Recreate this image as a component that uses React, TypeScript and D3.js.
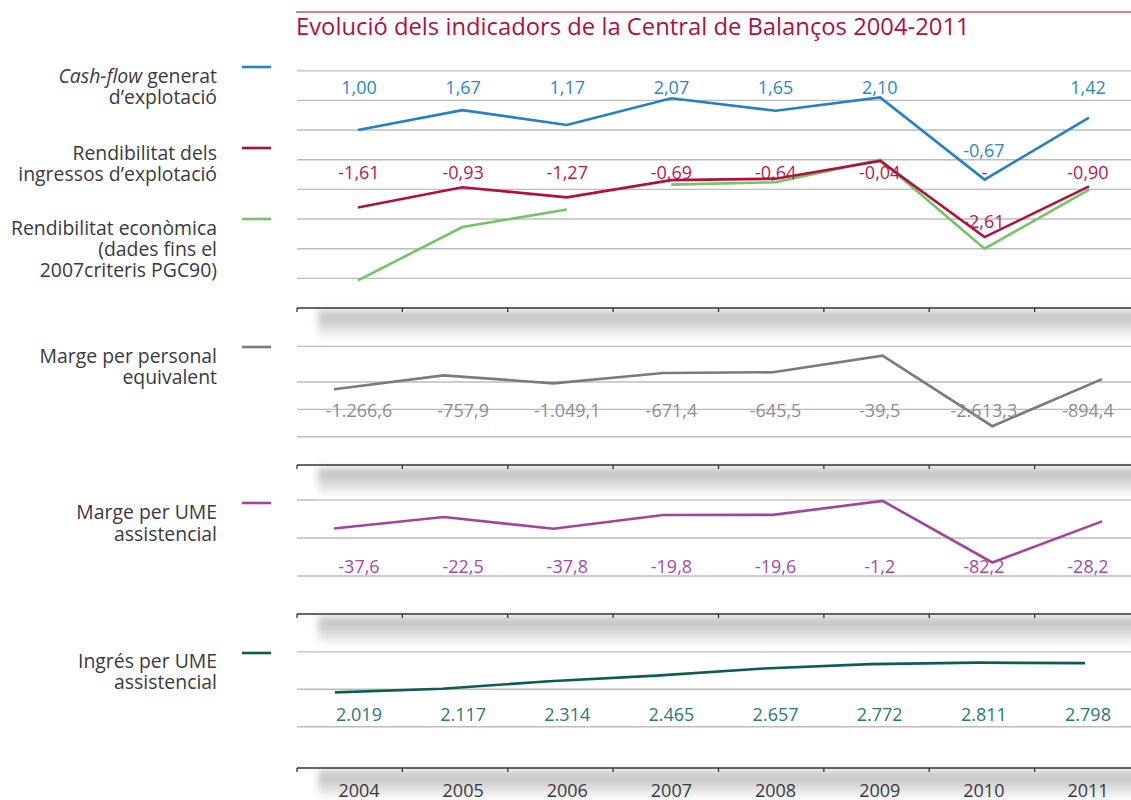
import React, { useRef, useEffect } from 'react';
import * as d3 from 'd3';

const years = ['2004', '2005', '2006', '2007', '2008', '2009', '2010', '2011'];

// panel 1 – ratios (%)
const cashFlow = [1.0, 1.67, 1.17, 2.07, 1.65, 2.1, -0.67, 1.42];
const rendIngressos = [-1.61, -0.93, -1.27, -0.69, -0.64, -0.04, -2.61, -0.9];
// rendibilitat econòmica: two unconnected runs (criteria change in 2007)
const rendEconomicaPGC90 = [-4.07, -2.27, -1.68, null, null, null, null, null];
const rendEconomicaPGC07 = [null, null, null, -0.84, -0.76, 0.0, -3.0, -1.01];

// panels 2-4
const margePersonal = [-1266.6, -757.9, -1049.1, -671.4, -645.5, -39.5, -2613.3, -894.4];
const margeUME = [-37.6, -22.5, -37.8, -19.8, -19.6, -1.2, -82.2, -28.2];
const ingresUME = [2019, 2117, 2314, 2465, 2657, 2772, 2811, 2798];

const grid1 = [3, 2, 1, 0, -1, -2, -3, -4];
const grid2 = [300, -1000, -2000, -3000];
const grid3 = [0, -50, -100];
const grid4 = [1100, 2100, 3100];

const title = 'Evolució dels indicadors de la Central de Balanços 2004-2011';

const W = 1131;
const H = 800;
const FONT = '"Open Sans", "Noto Sans", sans-serif';

const locale = d3.formatLocale({
  decimal: ',',
  thousands: '.',
  grouping: [3],
  currency: ['', ' €'],
  minus: '-',
});
const fmt2 = locale.format(',.2f');
const fmt1 = locale.format(',.1f');
const fmt0 = locale.format(',d');

const COLORS = {
  blue: '#2481c7',
  red: '#b20f3f',
  green: '#74c365',
  gray: '#7b7b7b',
  purple: '#a3449b',
  teal: '#0b5d53',
  text: '#3a3a3a',
};

export default function App() {
  const svgRef = useRef<SVGSVGElement>(null);

  useEffect(() => {
    if (!svgRef.current) return;
    const svg = d3.select(svgRef.current);
    svg.selectAll('*').remove();

    const defs = svg.append('defs');
    defs
      .append('filter')
      .attr('id', 'shadowBlur')
      .attr('x', '-5%')
      .attr('y', '-50%')
      .attr('width', '110%')
      .attr('height', '200%')
      .append('feGaussianBlur')
      .attr('stdDeviation', 3.5);
    const grad = defs
      .append('linearGradient')
      .attr('id', 'shadowGrad')
      .attr('x1', 0)
      .attr('y1', 0)
      .attr('x2', 0)
      .attr('y2', 1);
    grad.append('stop').attr('offset', '0%').attr('stop-color', '#cfcfd1');
    grad.append('stop').attr('offset', '30%').attr('stop-color', '#c6c6c8');
    grad.append('stop').attr('offset', '100%').attr('stop-color', '#ffffff');

    // x scales
    const band = d3.scaleBand<string>().domain(years).range([297, 1140]);
    const labelX = d3.scalePoint<string>().domain(years).range([359, 1088]);
    const x1 = d3.scalePoint<string>().domain(years).range([358, 1089]);
    const x23 = d3.scalePoint<string>().domain(years).range([334, 1102]);
    const x4 = d3.scalePoint<string>().domain(years).range([335, 1085]);

    // y scales
    const y1 = d3.scaleLinear().domain([-5, 3]).range([308, 70.7]);
    const y2 = d3.scaleLinear().domain([-4030, 1700]).range([465, 308]);
    const y3 = d3.scaleLinear().domain([-150, 46]).range([614, 465]);
    const y4 = d3.scaleLinear().domain([0, 4110]).range([768, 614]);

    // title
    svg
      .append('line')
      .attr('x1', 296)
      .attr('x2', W)
      .attr('y1', 12)
      .attr('y2', 12)
      .attr('stroke', '#c9527b')
      .attr('stroke-width', 1.5);
    svg
      .append('text')
      .attr('x', 296)
      .attr('y', 35)
      .attr('font-family', FONT)
      .attr('font-size', 23.8)
      .attr('fill', COLORS.red)
      .text(title);

    const gGrid = svg.append('g');
    const drawGrid = (scale: d3.ScaleLinear<number, number>, vals: number[], lightTop = false) => {
      gGrid
        .selectAll(null)
        .data(vals)
        .join('line')
        .attr('x1', 297)
        .attr('x2', W)
        .attr('y1', (d) => scale(d))
        .attr('y2', (d) => scale(d))
        .attr('stroke', (d, i) => (lightTop && i === 0 ? '#d2d2d2' : '#bcbcbc'))
        .attr('stroke-width', (d, i) => (lightTop && i === 0 ? 2 : 1.4));
    };
    drawGrid(y1, grid1, true);
    drawGrid(y2, grid2);
    drawGrid(y3, grid3);
    drawGrid(y4, grid4);

    // axes with drop shadows
    const axisYs = [y1.range()[0], y2.range()[0], y3.range()[0], y4.range()[0]];
    const gAxis = svg.append('g');
    axisYs.forEach((ay) => {
      gAxis
        .append('rect')
        .attr('x', 318)
        .attr('y', ay + 2)
        .attr('width', 860)
        .attr('height', 30)
        .attr('fill', 'url(#shadowGrad)')
        .attr('filter', 'url(#shadowBlur)');
      gAxis
        .append('line')
        .attr('x1', 297)
        .attr('x2', W)
        .attr('y1', ay)
        .attr('y2', ay)
        .attr('stroke', '#333')
        .attr('stroke-width', 1.5);
      gAxis
        .selectAll(null)
        .data(years)
        .join('line')
        .attr('x1', (d) => band(d)!)
        .attr('x2', (d) => band(d)!)
        .attr('y1', ay)
        .attr('y2', ay + 4)
        .attr('stroke', '#333')
        .attr('stroke-width', 1.3);
    });

    // year labels
    svg
      .append('g')
      .selectAll('text')
      .data(years)
      .join('text')
      .attr('x', (d) => labelX(d)!)
      .attr('y', 797)
      .attr('text-anchor', 'middle')
      .attr('font-family', FONT)
      .attr('font-size', 18)
      .attr('fill', COLORS.text)
      .text((d) => d);

    // series lines
    const drawLine = (
      xs: d3.ScalePoint<string>,
      ys: d3.ScaleLinear<number, number>,
      vals: (number | null)[],
      color: string,
      width = 2.6
    ) => {
      const line = d3
        .line<number | null>()
        .defined((d) => d !== null)
        .x((d, i) => xs(years[i])!)
        .y((d) => ys(d as number));
      svg
        .append('path')
        .attr('d', line(vals))
        .attr('fill', 'none')
        .attr('stroke', color)
        .attr('stroke-width', width)
        .attr('stroke-linejoin', 'miter');
    };

    drawLine(x1, y1, rendEconomicaPGC90, COLORS.green);
    drawLine(x1, y1, rendEconomicaPGC07, COLORS.green);
    drawLine(x1, y1, rendIngressos, COLORS.red);
    drawLine(x1, y1, cashFlow, COLORS.blue);
    drawLine(x23, y2, margePersonal, COLORS.gray);
    drawLine(x23, y3, margeUME, COLORS.purple);
    drawLine(x4, y4, ingresUME, COLORS.teal);

    // value labels: fixed row, except points that fall far below it
    const drawLabels = (
      vals: number[],
      fmt: (n: number) => string,
      color: string,
      rowY: number,
      ys?: d3.ScaleLinear<number, number>,
      xs?: d3.ScalePoint<string>,
      dropOffset = 0
    ) => {
      const g = svg.append('g');
      vals.forEach((v, i) => {
        let ty = rowY;
        if (ys && ys(v) - rowY > 55) {
          ty = ys(v) - dropOffset;
          if (dropOffset < 15) {
            // stray hyphen left on the row (as in the source)
            g.append('text')
              .attr('x', xs ? xs(years[i])! : labelX(years[i])!)
              .attr('y', rowY)
              .attr('text-anchor', 'middle')
              .attr('font-family', FONT)
              .attr('font-size', 18)
              .attr('fill', color)
              .text('-');
          }
        }
        g.append('text')
          .attr('x', labelX(years[i])!)
          .attr('y', ty)
          .attr('text-anchor', 'middle')
          .attr('font-family', FONT)
          .attr('font-size', 18)
          .attr('fill', color)
          .text(fmt(v));
      });
    };

    drawLabels(cashFlow, fmt2, '#2b87ca', 94, y1, x1, 23);
    drawLabels(rendIngressos, fmt2, '#b8184a', 179, y1, x1, 9);
    drawLabels(margePersonal, fmt1, '#8e8e8e', 417);
    drawLabels(margeUME, fmt1, '#a8489f', 573);
    drawLabels(ingresUME, fmt0, '#2a7b70', 721);

    // legend
    const legend = [
      { color: COLORS.blue, ly: 67, lines: [['Cash-flow', ' generat'], ['d’explotació']], baselines: [83, 104] },
      { color: COLORS.red, ly: 148, lines: [['Rendibilitat dels'], ['ingressos d’explotació']], baselines: [160, 181] },
      {
        color: COLORS.green,
        ly: 219,
        lines: [['Rendibilitat econòmica'], ['(dades fins el'], ['2007criteris PGC90)']],
        baselines: [235, 256, 277],
      },
      { color: COLORS.gray, ly: 347, lines: [['Marge per personal'], ['equivalent']], baselines: [363, 384] },
      { color: COLORS.purple, ly: 503, lines: [['Marge per UME'], ['assistencial']], baselines: [519, 541] },
      { color: COLORS.teal, ly: 653, lines: [['Ingrés per UME'], ['assistencial']], baselines: [668, 689] },
    ];
    const gLeg = svg.append('g');
    legend.forEach((item) => {
      gLeg
        .append('line')
        .attr('x1', 242)
        .attr('x2', 271)
        .attr('y1', item.ly)
        .attr('y2', item.ly)
        .attr('stroke', item.color)
        .attr('stroke-width', 2.6);
      item.lines.forEach((parts, li) => {
        const t = gLeg
          .append('text')
          .attr('x', 217)
          .attr('y', item.baselines[li])
          .attr('text-anchor', 'end')
          .attr('font-family', FONT)
          .attr('font-size', 19.4)
          .attr('fill', COLORS.text);
        if (parts.length === 2) {
          t.append('tspan').attr('font-style', 'italic').text(parts[0]);
          t.append('tspan').text(parts[1]);
        } else {
          t.text(parts[0]);
        }
      });
    });
  }, []);

  return (
    <svg
      ref={svgRef}
      width={W}
      height={H}
      style={{ position: 'absolute', left: 0, top: 0, background: '#fff' }}
    />
  );
}
